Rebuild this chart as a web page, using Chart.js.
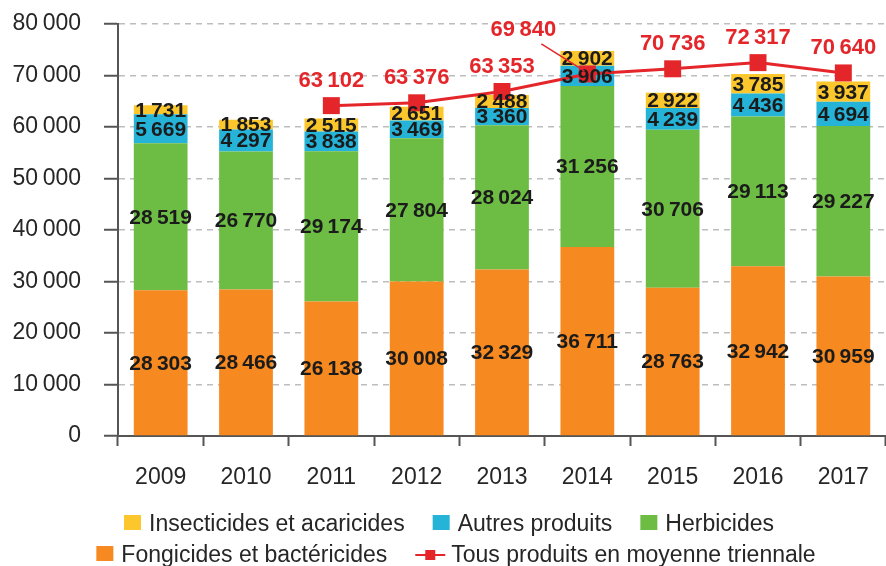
<!DOCTYPE html>
<html>
<head>
<meta charset="utf-8">
<script src="https://cdn.jsdelivr.net/npm/chart.js@4.4.1/dist/chart.umd.min.js"></script>
<style>
html, body { margin: 0; padding: 0; background: #fff; }
#wrap { width: 886px; height: 566px; }
</style>
</head>
<body>
<div id="wrap"><canvas id="graphique" width="886" height="566"></canvas></div>
<script>
"use strict";
// Données
var annees = ['2009', '2010', '2011', '2012', '2013', '2014', '2015', '2016', '2017'];
var fongicides = [28303, 28466, 26138, 30008, 32329, 36711, 28763, 32942, 30959];
var herbicides = [28519, 26770, 29174, 27804, 28024, 31256, 30706, 29113, 29227];
var autresProduits = [5669, 4297, 3838, 3469, 3360, 3906, 4239, 4436, 4694];
var insecticides = [1731, 1853, 2515, 2651, 2488, 2902, 2922, 3785, 3937];
// position des points de la courbe telle que tracée, et valeurs imprimées
var moyenneTriennale = [null, null, 64150, 64700, 66900, 70300, 71300, 72500, 70500];
var moyenneLabels = [null, null, 63102, 63376, 63353, 69840, 70736, 72317, 70640];
var yMin = 0, yMax = 80000, yPas = 10000;

var JAUNE = '#fcc72c', BLEU = '#25b3d7', VERT = '#6dbd45', ORANGE = '#f6891f', ROUGE = '#e4262a';
var POLICE = '"Liberation Sans", Arial, Helvetica, sans-serif';
var TEXTE = '#262626';

function fmt(n) {
    return String(n).replace(/\B(?=(\d{3})+(?!\d))/g, '\u2009');
}

var etiquettes = {
    id: 'etiquettes',
    afterDatasetsDraw: function(chart) {
        var ctx = chart.ctx;
        ctx.save();
        ctx.textAlign = 'center';
        ctx.textBaseline = 'middle';
        chart.data.datasets.forEach(function(ds, i) {
            var meta = chart.getDatasetMeta(i);
            if (ds.type === 'line') {
                ctx.font = 'bold 22px ' + POLICE;
                ctx.fillStyle = ROUGE;
                meta.data.forEach(function(pt, j) {
                    if (moyenneLabels[j] == null) return;
                    var lx = pt.x, ly = pt.y - 25;
                    if (j === 5) {
                        // étiquette décalée avec trait de rappel
                        lx = pt.x - 64;
                        ly = pt.y - 44;
                        ctx.strokeStyle = ROUGE;
                        ctx.lineWidth = 1.5;
                        ctx.beginPath();
                        ctx.moveTo(lx + 18, ly + 14);
                        ctx.lineTo(pt.x - 3, pt.y - 3);
                        ctx.stroke();
                    }
                    ctx.fillText(fmt(moyenneLabels[j]), lx, ly);
                });
            } else {
                ctx.font = 'bold 21px ' + POLICE;
                ctx.fillStyle = '#1b1b1b';
                meta.data.forEach(function(bar, j) {
                    ctx.fillText(fmt(ds.data[j]), bar.x, (bar.y + bar.base) / 2 + 1);
                });
            }
        });
        ctx.restore();
    }
};

var legende = {
    id: 'legende',
    afterDraw: function(chart) {
        var ctx = chart.ctx;
        var ds = chart.data.datasets;
        var rangs = [
            { items: [ds[3], ds[2], ds[1]], cx: 449, y: 531 },
            { items: [ds[0], ds[4]], cx: 456, y: 562 }
        ];
        ctx.save();
        ctx.font = '23px ' + POLICE;
        ctx.textBaseline = 'alphabetic';
        ctx.textAlign = 'left';
        rangs.forEach(function(r) {
            var largeurs = r.items.map(function(d) {
                var icone = d.type === 'line' ? 30 : 17;
                return icone + (d.type === 'line' ? 6 : 8) + ctx.measureText(d.label).width;
            });
            var total = largeurs.reduce(function(a, b) { return a + b; }, 0) + 28 * (r.items.length - 1);
            var x = r.cx - total / 2;
            r.items.forEach(function(d, k) {
                if (d.type === 'line') {
                    ctx.strokeStyle = d.borderColor;
                    ctx.lineWidth = 2;
                    ctx.beginPath();
                    ctx.moveTo(x, r.y - 7);
                    ctx.lineTo(x + 30, r.y - 7);
                    ctx.stroke();
                    ctx.fillStyle = d.borderColor;
                    ctx.fillRect(x + 10, r.y - 12, 10, 10);
                    ctx.fillStyle = TEXTE;
                    ctx.fillText(d.label, x + 36, r.y);
                } else {
                    ctx.fillStyle = d.backgroundColor;
                    ctx.fillRect(x, r.y - 16, 17, 15);
                    ctx.fillStyle = TEXTE;
                    ctx.fillText(d.label, x + 25, r.y);
                }
                x += largeurs[k] + 28;
            });
        });
        ctx.restore();
    }
};

new Chart(document.getElementById('graphique').getContext('2d'), {
    type: 'bar',
    data: {
        labels: annees,
        datasets: [
            { label: 'Fongicides et bactéricides', data: fongicides, backgroundColor: ORANGE, stack: 'p', order: 1 },
            { label: 'Herbicides', data: herbicides, backgroundColor: VERT, stack: 'p', order: 1 },
            { label: 'Autres produits', data: autresProduits, backgroundColor: BLEU, stack: 'p', order: 1 },
            { label: 'Insecticides et acaricides', data: insecticides, backgroundColor: JAUNE, stack: 'p', order: 1 },
            {
                type: 'line', label: 'Tous produits en moyenne triennale', data: moyenneTriennale,
                borderColor: ROUGE, backgroundColor: ROUGE, borderWidth: 3, order: 0,
                pointStyle: 'rect', pointRadius: 12, pointBackgroundColor: ROUGE, pointBorderWidth: 0,
                fill: false, tension: 0, clip: false
            }
        ]
    },
    options: {
        responsive: false,
        animation: false,
        devicePixelRatio: 1,
        barPercentage: 0.63,
        categoryPercentage: 1,
        layout: { autoPadding: false, padding: { top: 24, left: 0, right: 0, bottom: 0 } },
        plugins: {
            legend: { display: false },
            tooltip: { enabled: false }
        },
        scales: {
            x: {
                stacked: true,
                offset: true,
                afterFit: function(scale) {
                    scale.height = 130;
                    scale.paddingLeft = 0;
                    scale.paddingRight = 0;
                },
                grid: {
                    display: true, offset: true, drawOnChartArea: false, drawTicks: true,
                    tickLength: 10, tickColor: '#555', tickWidth: 2
                },
                border: { display: true, color: '#555', width: 2 },
                ticks: {
                    color: TEXTE, padding: 18, maxRotation: 0,
                    font: { family: POLICE, size: 23 }
                }
            },
            y: {
                stacked: true,
                min: yMin,
                max: yMax,
                afterFit: function(scale) {
                    scale.width = 118;
                    scale.paddingTop = 0;
                    scale.paddingBottom = 0;
                },
                grid: {
                    color: '#bdbdbd', lineWidth: 1.5, drawTicks: true, tickLength: 14,
                    tickColor: '#555', tickWidth: 2
                },
                border: { display: true, color: '#555', width: 2, dash: [6, 5] },
                ticks: {
                    stepSize: yPas, color: TEXTE, padding: 23,
                    font: { family: POLICE, size: 23 },
                    callback: function(v) { return fmt(v); }
                }
            }
        }
    },
    plugins: [etiquettes, legende]
});
</script>
</body>
</html>
